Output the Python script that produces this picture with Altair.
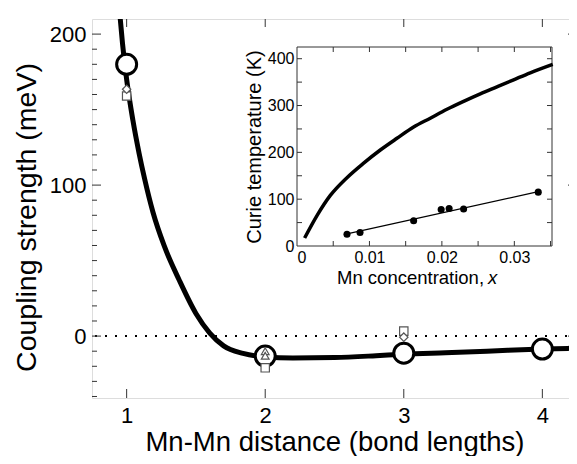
import altair as alt
import pandas as pd

# ---------------- main panel data ----------------
dist_circles = [1, 2, 3, 4]
coupling_circles = [180, -13.2, -11.3, -8.6]

square_x = [1, 2, 3]
square_y = [159, -21, 3.3]
diamond_x = [1, 3]
diamond_y = [163.5, -0.7]
triangle_x = [2, 2]
triangle_y = [-10, -13]

curve_x = [0.95, 0.97, 1.0, 1.045, 1.09, 1.13, 1.19, 1.27, 1.38, 1.5, 1.6,
           1.7, 1.84, 2.0, 2.2, 2.5, 2.8, 3.0, 3.3, 3.6, 4.0, 4.25]
curve_y = [214, 194, 170, 143, 121, 104, 82, 60, 37, 15, 2,
           -6.5, -11.5, -13.8, -14.5, -14.2, -13, -12, -11, -10, -8.6, -8]

main_x_ticks = [1, 2, 3, 4]
main_y_major = [0, 100, 200]
main_y_minor = [-40, -30, -20, -10, 10, 20, 30, 40, 50, 60, 70, 80, 90,
                110, 120, 130, 140, 150, 160, 170, 180, 190]

# ---------------- inset data ----------------
conc = [0.0069, 0.0087, 0.0161, 0.0199, 0.0210, 0.0230, 0.0333]
tc = [25, 29, 54, 78, 80, 79, 115]
fit_x = [0.0069, 0.0333]
fit_y = [26, 116]
theory_x = [0.00105, 0.0028, 0.0046, 0.0069, 0.0092, 0.0115, 0.0138, 0.0161,
            0.0184, 0.0207, 0.0230, 0.0253, 0.0276, 0.0299, 0.0322, 0.0353]
theory_y = [17, 66, 108, 146, 177, 205, 230, 254,
            273, 292, 309, 325, 340, 355, 370, 388]
inset_x_ticks = [0.005, 0.01, 0.015, 0.02, 0.025, 0.03, 0.035]
inset_y_ticks = [50, 100, 150, 200, 250, 300, 350, 400]

W, H = 485, 379
FONT = "Liberation Sans"
FRAME = "#333333"

xs = alt.Scale(domain=[0.75, 4.25], nice=False, zero=False)
ys = alt.Scale(domain=[-41, 210], nice=False, zero=False)
xaxis = alt.Axis(values=main_x_ticks, ticks=False, tickSize=0, domain=False, grid=False,
                 labelFontSize=22, labelPadding=7, format="d",
                 title="Mn-Mn distance (bond lengths)", titleFontSize=27.5,
                 titleFontWeight="normal", titlePadding=2)
yaxis = alt.Axis(values=main_y_major, ticks=False, tickSize=0, domain=False, grid=False,
                 labelFontSize=22, labelPadding=6, format="d",
                 title="Coupling strength (meV)", titleFontSize=28.5,
                 titleFontWeight="normal", titlePadding=8, titleY=198)


def X(f):
    return alt.X(f"{f}:Q", scale=xs, axis=xaxis)


def Y(f):
    return alt.Y(f"{f}:Q", scale=ys, axis=yaxis)


zero_line = alt.Chart(pd.DataFrame({"y": [0]})).mark_rule(
    strokeDash=[2, 8], strokeWidth=2, color="black").encode(y=Y("y"))

curve = alt.Chart(pd.DataFrame({"d": curve_x, "c": curve_y})).mark_line(
    color="black", strokeWidth=5, clip=True, interpolate="monotone").encode(x=X("d"), y=Y("c"))

circles = alt.Chart(pd.DataFrame({"d": dist_circles, "c": coupling_circles})).mark_point(
    shape="circle", filled=True, fill="white", stroke="black", strokeWidth=3,
    size=400, opacity=1).encode(x=X("d"), y=Y("c"))


def small(xv, yv, shape, size):
    return alt.Chart(pd.DataFrame({"d": xv, "c": yv})).mark_point(
        shape=shape, filled=True, fill="white", stroke="#555555", strokeWidth=1.2,
        size=size, opacity=1).encode(x=X("d"), y=Y("c"))


squares = small(square_x, square_y, "square", 70)
diamonds = small(diamond_x, diamond_y, "diamond", 70)
triangles = small(triangle_x, triangle_y, "triangle-up", 60)

df_xt = pd.DataFrame({"t": main_x_ticks})
df_ymaj = pd.DataFrame({"t": main_y_major})
df_ymin = pd.DataFrame({"t": main_y_minor})
tick_style = dict(color=FRAME, strokeWidth=1)
main_ticks = [
    alt.Chart(df_xt).mark_rule(**tick_style).encode(x=X("t"), y=alt.value(H), y2=alt.value(H - 9)),
    alt.Chart(df_xt).mark_rule(**tick_style).encode(x=X("t"), y=alt.value(0), y2=alt.value(8)),
    alt.Chart(df_ymaj).mark_rule(**tick_style).encode(y=Y("t"), x=alt.value(0), x2=alt.value(9)),
    alt.Chart(df_ymin).mark_rule(**tick_style).encode(y=Y("t"), x=alt.value(0), x2=alt.value(5)),
    alt.Chart(df_ymaj).mark_rule(**tick_style).encode(y=Y("t"), x=alt.value(W - 9), x2=alt.value(W)),
    alt.Chart(df_ymin).mark_rule(**tick_style).encode(y=Y("t"), x=alt.value(W - 5), x2=alt.value(W)),
]

main = alt.layer(zero_line, *main_ticks, curve, circles, squares, diamonds, triangles)

# ---------------- inset ----------------
IX0, IX1, IY0, IY1 = 205, 460, 28, 227
ixs = alt.Scale(domain=[0, 0.0352], range=[IX0, IX1], nice=False, zero=False)
iys = alt.Scale(domain=[0, 425], range=[IY1, IY0], nice=False, zero=False)
ixaxis = alt.Axis(orient="bottom", offset=-(H - IY1), values=[0, 0.01, 0.02, 0.03],
                  format=".2~f", ticks=False, tickSize=0, domain=False, grid=False,
                  labelFontSize=16, labelPadding=3, title=None)
iyaxis = alt.Axis(orient="left", offset=-IX0, values=[0, 100, 200, 300, 400],
                  format="d", ticks=False, tickSize=0, domain=False, grid=False,
                  labelFontSize=16, labelPadding=3,
                  title="Curie temperature (K)", titleFontSize=20,
                  titleFontWeight="normal", titlePadding=3)


def IX(f):
    return alt.X(f"{f}:Q", scale=ixs, axis=ixaxis)


def IY(f):
    return alt.Y(f"{f}:Q", scale=iys, axis=iyaxis)


one = pd.DataFrame({"a": [0]})
frame = alt.Chart(one).mark_rect(fill="white", stroke=FRAME, strokeWidth=1).encode(
    x=alt.value(IX0), x2=alt.value(IX1), y=alt.value(IY0), y2=alt.value(IY1))

theory = alt.Chart(pd.DataFrame({"x": theory_x, "t": theory_y})).mark_line(
    color="black", strokeWidth=3.5, interpolate="monotone").encode(x=IX("x"), y=IY("t"))
fit = alt.Chart(pd.DataFrame({"x": fit_x, "t": fit_y})).mark_line(
    color="black", strokeWidth=1.2).encode(x=IX("x"), y=IY("t"))
dots = alt.Chart(pd.DataFrame({"x": conc, "t": tc})).mark_circle(
    color="black", size=50, opacity=1).encode(x=IX("x"), y=IY("t"))

df_ixt = pd.DataFrame({"t": inset_x_ticks})
df_iyt = pd.DataFrame({"t": inset_y_ticks})
inset_ticks = [
    alt.Chart(df_ixt).mark_rule(**tick_style).encode(x=IX("t"), y=alt.value(IY1), y2=alt.value(IY1 - 5)),
    alt.Chart(df_ixt).mark_rule(**tick_style).encode(x=IX("t"), y=alt.value(IY0), y2=alt.value(IY0 + 5)),
    alt.Chart(df_iyt).mark_rule(**tick_style).encode(y=IY("t"), x=alt.value(IX0), x2=alt.value(IX0 + 5)),
    alt.Chart(df_iyt).mark_rule(**tick_style).encode(y=IY("t"), x=alt.value(IX1 - 5), x2=alt.value(IX1)),
]

xtitle1 = alt.Chart(one).mark_text(text="Mn concentration,", font=FONT, fontSize=18.5,
                                   align="left", baseline="middle", color="black").encode(
    x=alt.value(245), y=alt.value(259))
xtitle2 = alt.Chart(one).mark_text(text="x", font=FONT, fontSize=18.5, fontStyle="italic",
                                   align="left", baseline="middle", color="black").encode(
    x=alt.value(396), y=alt.value(259))

inset = alt.layer(frame, *inset_ticks, theory, fit, dots, xtitle1, xtitle2)

chart = alt.layer(main, inset).resolve_scale(
    x="independent", y="independent"
).properties(
    width=W, height=H,
    autosize=alt.AutoSizeParams(type="none"),
    padding={"left": 84, "top": 11, "right": -8, "bottom": 58},
).configure_view(
    stroke=FRAME, strokeWidth=1
).configure_axis(
    labelFont=FONT, titleFont=FONT, labelColor="black", titleColor="black"
).configure(background="white")

chart.save("out.html", embed_options={"renderer": "svg", "actions": False})
